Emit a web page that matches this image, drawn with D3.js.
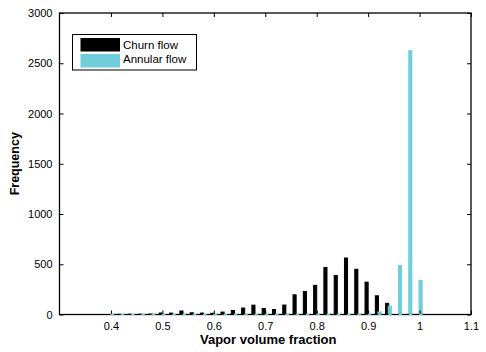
<!DOCTYPE html>
<html>
<head>
<meta charset="utf-8">
<script src="https://cdn.jsdelivr.net/npm/d3@7"></script>
<style>
  body { margin: 0; background: #fff; }
  svg { display: block; font-family: "Liberation Sans", Arial, sans-serif; }
</style>
</head>
<body>
<div id="chart"></div>
<script>
// bin centres (vapor volume fraction)
var bins = [0.40, 0.42, 0.44, 0.46, 0.48, 0.50, 0.52, 0.54, 0.56, 0.58,
            0.60, 0.62, 0.64, 0.66, 0.68, 0.70, 0.72, 0.74, 0.76, 0.78,
            0.80, 0.82, 0.84, 0.86, 0.88, 0.90, 0.92, 0.94, 0.96, 0.98, 1.00];

// frequencies
var churn = [0, 2, 3, 3, 5, 15, 14, 35, 17, 14,
             12, 24, 40, 64, 93, 60, 50, 94, 196, 229,
             290, 468, 388, 562, 450, 322, 186, 111, 0, 0, 0];
var annular = [0, 0, 0, 0, 0, 0, 0, 0, 0, 0,
               0, 0, 0, 0, 0, 0, 0, 0, 0, 0,
               0, 0, 0, 0, 0, 0, 25, 83, 488, 2625, 340];

var xTicks = [0.4, 0.5, 0.6, 0.7, 0.8, 0.9, 1, 1.1];
var yTicks = [0, 500, 1000, 1500, 2000, 2500, 3000];

var series = [
  {name: "Churn flow", values: churn, color: "#000000", shift: -0.002},
  {name: "Annular flow", values: annular, color: "#70cdda", shift: 0.003}
];

var W = 486, H = 352;
// plot box (window.top is taken, so prefix these)
var pLeft = 59.5, pRight = 471, pTop = 13, pBottom = 314.5;

var svg = d3.select("#chart").append("svg")
  .attr("width", W)
  .attr("height", H);

var x = d3.scaleLinear().domain([0.3, 1.1]).range([pLeft, pRight]);
var y = d3.scaleLinear().domain([0, 3000]).range([pBottom, pTop]);

var barW = 0.008; // in data units

// bars, drawn with an edge so zero-height bins show as a short line
series.forEach(function(s) {
  svg.append("g").selectAll("rect")
    .data(s.values)
    .join("rect")
    .attr("x", function(d, i) { return x(bins[i] + s.shift - barW / 2); })
    .attr("width", x(barW) - x(0) - 1)
    .attr("y", function(d) { return y(d); })
    .attr("height", function(d) { return pBottom - y(d); })
    .attr("fill", s.color)
    .attr("stroke", s.color)
    .attr("stroke-width", 1);
});

// axes: ticks point inward, mirrored on top/right
var tickLen = 4;
var bottomAxis = d3.axisBottom(x).tickValues(xTicks).tickSize(-tickLen).tickPadding(8)
  .tickFormat(d3.format("~g"));
var topAxis = d3.axisTop(x).tickValues(xTicks).tickSize(-tickLen).tickFormat("");
var leftAxis = d3.axisLeft(y).tickValues(yTicks).tickSize(-tickLen).tickPadding(7)
  .tickFormat(d3.format("d"));
var rightAxis = d3.axisRight(y).tickValues(yTicks).tickSize(-tickLen).tickFormat("");

function styleAxis(g) {
  g.select(".domain").remove();
  g.selectAll("line").attr("stroke", "#000");
  g.selectAll("text").attr("fill", "#000").style("font-size", "11px");
}

svg.append("g").attr("transform", "translate(0," + pBottom + ")").call(bottomAxis).call(styleAxis);
svg.append("g").attr("transform", "translate(0," + pTop + ")").call(topAxis).call(styleAxis);
svg.append("g").attr("transform", "translate(" + pLeft + ",0)").call(leftAxis).call(styleAxis);
svg.append("g").attr("transform", "translate(" + pRight + ",0)").call(rightAxis).call(styleAxis);

// box
svg.append("rect")
  .attr("x", pLeft)
  .attr("y", pTop)
  .attr("width", pRight - pLeft)
  .attr("height", pBottom - pTop)
  .attr("fill", "none")
  .attr("stroke", "#000")
  .attr("stroke-width", 1.3);

// the annular bars sit on top of the bottom axis line
svg.append("g").selectAll("line")
  .data(annular)
  .join("line")
  .attr("x1", function(d, i) { return x(bins[i] + 0.003 - barW / 2); })
  .attr("x2", function(d, i) { return x(bins[i] + 0.003 + barW / 2) - 0.5; })
  .attr("y1", pBottom)
  .attr("y2", pBottom)
  .attr("stroke", "#70cdda")
  .attr("stroke-width", 1.5);

// axis titles
svg.append("text")
  .attr("x", (pLeft + pRight) / 2 + 3)
  .attr("y", 344)
  .attr("text-anchor", "middle")
  .style("font-size", "13px")
  .style("font-weight", "bold")
  .text("Vapor volume fraction");

svg.append("text")
  .attr("transform", "translate(19," + ((pTop + pBottom) / 2) + ") rotate(-90)")
  .attr("text-anchor", "middle")
  .style("font-size", "12.5px")
  .style("font-weight", "bold")
  .text("Frequency");

// legend
var legend = svg.append("g");
legend.append("rect")
  .attr("x", 72.5)
  .attr("y", 34.5)
  .attr("width", 124)
  .attr("height", 35.5)
  .attr("fill", "#fff")
  .attr("stroke", "#000")
  .attr("stroke-width", 1);

series.forEach(function(s, i) {
  legend.append("rect")
    .attr("x", 80.5)
    .attr("y", 38 + i * 16)
    .attr("width", 39.5)
    .attr("height", 13.5)
    .attr("fill", s.color);
  legend.append("text")
    .attr("x", 123)
    .attr("y", 48.5 + i * 14.5)
    .style("font-size", "11.5px")
    .text(s.name);
});
</script>
</body>
</html>
